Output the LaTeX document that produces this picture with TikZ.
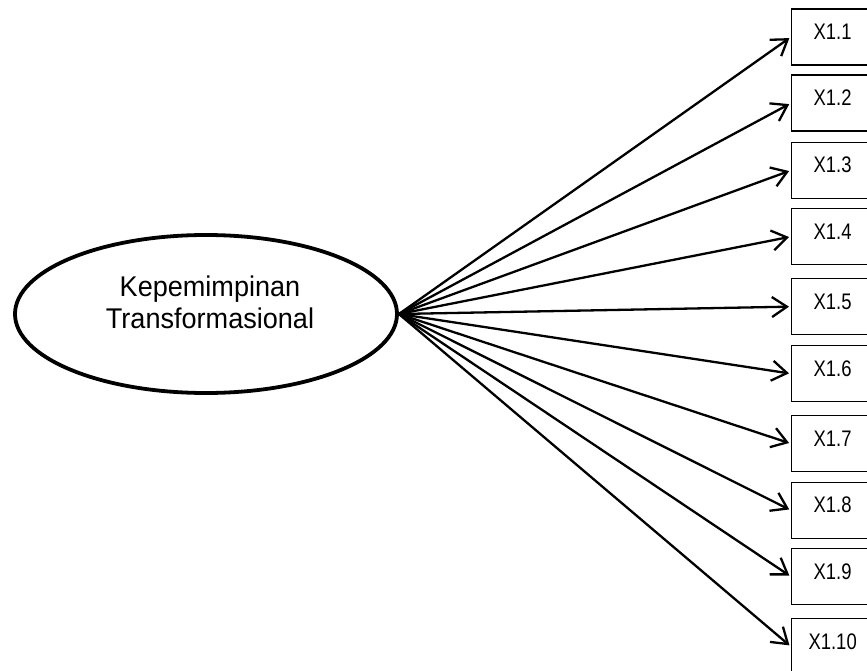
\documentclass[tikz,border=0pt]{standalone}
\usepackage{fontspec}
\setmainfont{Liberation Sans}[FakeStretch=0.95]
\newfontfamily\itemfont{Liberation Sans}[FakeStretch=0.82]
\usetikzlibrary{shapes.geometric,arrows.meta}
\begin{document}
\begin{tikzpicture}[x=1pt,y=-1pt,
  latent/.style={ellipse,draw,line width=3.8pt,minimum width=382pt,minimum height=158pt,inner sep=0pt},
  latlabel/.style={align=center,font=\fontsize{28.5}{31.6}\selectfont,inner sep=0pt},
  indicator/.style={rectangle,draw,line width=1.3pt,anchor=north west,minimum width=82pt,minimum height=56pt,
    inner sep=0pt,text height=30.5pt,text depth=25.5pt,font=\itemfont\fontsize{22.5}{26}\selectfont},
  loading/.style={line width=2.3pt,-{Straight Barb[length=15pt,width=20pt,line width=2.3pt]},shorten >=2pt}]
  \useasboundingbox (0,0) rectangle (867,671);
  \begin{scope}
  \clip (0,0) rectangle (867,671);
  % latent construct
  \node[latent] (lat) at (206,314) {};
  \node[latlabel] (latname) at (210,302.5) {Kepemimpinan\\Transformasional};
  % indicators
  \foreach \i/\t in {1/8.3,2/74.5,3/141.7,4/208,5/278,6/345,7/415,8/481.7,9/548,10/618}{
    \node[indicator] (x\i) at (791,\t) {X1.\i};
    \draw[loading] (lat.east) -- (x\i.west);
  }
  \end{scope}
\end{tikzpicture}
\end{document}
